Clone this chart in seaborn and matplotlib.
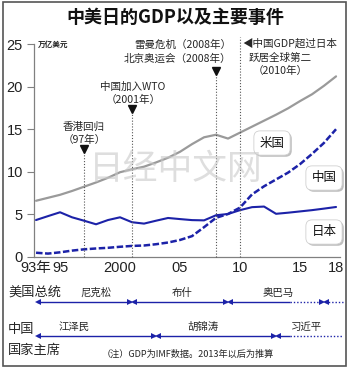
import matplotlib
matplotlib.use("Agg")
import matplotlib.pyplot as plt
import matplotlib.patheffects as pe
from matplotlib.patches import Rectangle
from matplotlib.transforms import blended_transform_factory
import pandas as pd
import seaborn as sns

# GDP, trillion US dollars (IMF; 2013 onward projected)
years = list(range(1993, 2019))
gdp_us = [6.6, 6.95, 7.3, 7.75, 8.25, 8.75, 9.3, 9.95, 10.3, 10.6, 11.1, 11.65,
          12.35, 13.25, 14.05, 14.35, 13.9, 14.6, 15.3, 16.0, 16.7, 17.45,
          18.3, 19.1, 20.1, 21.2]
gdp_china = [0.5, 0.4, 0.55, 0.75, 0.9, 1.0, 1.08, 1.2, 1.3, 1.35, 1.5, 1.7,
             2.0, 2.45, 3.5, 4.6, 5.05, 5.8, 7.35, 8.3, 9.1, 9.9, 10.9, 12.1,
             13.4, 15.0]
gdp_japan = [4.34, 4.8, 5.25, 4.66, 4.26, 3.84, 4.34, 4.66, 4.08, 3.92, 4.26,
             4.58, 4.45, 4.33, 4.3, 4.9, 5.05, 5.5, 5.85, 5.92, 5.07, 5.2,
             5.35, 5.5, 5.68, 5.87]

x_ticks = [1993, 1995, 2000, 2005, 2010, 2015, 2018]
x_tick_labels = ["93年", "95", "2000", "05", "10", "15", "18"]
y_ticks = [0, 5, 10, 15, 20, 25]

event_years = [1997, 2001, 2008, 2010]

us_presidents = ["尼克松", "布什", "奥巴马"]
us_terms = [(1993, 2001), (2001, 2009), (2009, 2017)]
cn_presidents = ["江泽民", "胡锦涛", "习近平"]
cn_terms = [(1993, 2003), (2003, 2013), (2013, None)]

df = pd.DataFrame({
    "year": years * 3,
    "gdp": gdp_us + gdp_china + gdp_japan,
    "country": ["米国"] * len(years) + ["中国"] * len(years) + ["日本"] * len(years),
})

sns.set_style("white")
plt.rcParams["font.family"] = ["Noto Sans CJK SC", "DejaVu Sans"]

W, H = 350, 369
BLUE = "#1c22a8"
GRAY = "#9a9a9a"
AXC = "#808080"

fig = plt.figure(figsize=(W / 100, H / 100), dpi=100)
fig.patch.set_facecolor("white")
ax = fig.add_axes([34 / W, 1 - 257 / H, (340 - 34) / W, (257 - 44) / H])
ov = fig.add_axes([0, 0, 1, 1], zorder=5)
ov.set_xlim(0, W)
ov.set_ylim(H, 0)
ov.axis("off")

styles = {"米国": (GRAY, "", 1.6), "中国": (BLUE, (2.6, 1.0), 1.8), "日本": (BLUE, "", 1.5)}
for name, (col, dash, lw) in styles.items():
    sub = df[df["country"] == name]
    sns.lineplot(data=sub, x="year", y="gdp", color=col, lw=lw, ax=ax,
                 legend=False, zorder=3)
    if dash:
        ax.lines[-1].set_dashes(dash)

ax.set_xlim(1992.83, 2018.33)
ax.set_ylim(0, 25)
ax.set_xlabel("")
ax.set_ylabel("")
ax.set_xticks(x_ticks)
ax.set_xticklabels(x_tick_labels)
ax.set_xticks(years, minor=True)
ax.set_yticks(y_ticks)
ax.tick_params(axis="x", which="both", direction="in", length=5, width=0.8,
               color=AXC, pad=3, labelsize=10.5)
ax.tick_params(axis="y", direction="out", length=5, width=0.8, color=AXC,
               pad=3, labelsize=10.5, left=True)
for lab in ax.get_xticklabels() + ax.get_yticklabels():
    lab.set_fontfamily(["Liberation Sans Narrow", "Liberation Sans", "Noto Sans CJK SC"])
    lab.set_color("#222222")
for s in ["top", "right"]:
    ax.spines[s].set_visible(False)
for s in ["left", "bottom"]:
    ax.spines[s].set_color(AXC)
    ax.spines[s].set_linewidth(0.9)
ax.patch.set_alpha(0)

tr = blended_transform_factory(ax.transData, ov.transData)

# title, unit, frame
ov.text(175, 17, "中美日的GDP以及主要事件", ha="center", va="center",
        fontsize=13, fontweight="bold", color="#111111")
ov.text(38, 44, "万亿美元", ha="left", va="center", fontsize=5.5,
        fontweight="bold", color="#222222")
ov.add_patch(Rectangle((3, 2), 343, 364, fill=False, ec="#555555", lw=1.2))

# event markers
event_tops = [152, 112, 74, 37]
event_tris = [149, 109, 71, None]
for yr, top, tri in zip(event_years, event_tops, event_tris):
    ov.plot([yr, yr], [257, top], transform=tr, color="#555555", lw=0.8,
            ls=(0, (1, 1.6)), zorder=1)
    if tri is not None:
        ov.plot([yr], [tri], transform=tr, marker="v", ms=6, color="#111111")

ev_fs = 7.6
ov.text(84, 127, "香港回归", ha="center", va="center", fontsize=ev_fs)
ov.text(84, 140, "（97年）", ha="center", va="center", fontsize=ev_fs)
ov.text(133, 87, "中国加入WTO", ha="center", va="center", fontsize=ev_fs)
ov.text(133, 100, "（2001年）", ha="center", va="center", fontsize=ev_fs)
ov.text(231, 45, "雷曼危机（2008年）", ha="right", va="center", fontsize=ev_fs)
ov.text(231, 59, "北京奥运会（2008年）", ha="right", va="center", fontsize=ev_fs)
ov.text(242, 44, "◀中国GDP超过日本", ha="left", va="center", fontsize=ev_fs,
        family=["Noto Sans CJK SC", "DejaVu Sans"])
ov.text(280, 58, "跃居全球第二", ha="center", va="center", fontsize=ev_fs)
ov.text(280, 71, "（2010年）", ha="center", va="center", fontsize=ev_fs)

# series labels
for name, (px, py) in zip(["米国", "中国", "日本"], [(272, 143), (324, 178), (324, 232)]):
    t = ov.text(px, py, name, ha="center", va="center", fontsize=9, color="#111111",
                bbox=dict(boxstyle="round,pad=0.45,rounding_size=0.5", fc="white",
                          ec="#d0d0d0", lw=0.6))
    t.get_bbox_patch().set_path_effects([
        pe.SimplePatchShadow(offset=(1.2, -1.2), shadow_rgbFace="#b0b0b0", alpha=0.8),
        pe.Normal()])

# watermark
ov.text(176, 170, "日经中文网", ha="center", va="center", fontsize=25,
        color="#c8c8c8", alpha=0.6, zorder=6)

# leader rows
X_END = 2018.6
SOLID_UNTIL = 2014.2


def span(y, start, end, left_head=True, right_head=True):
    s = start + 0.12
    e = (end - 0.12) if end is not None else X_END
    solid_end = min(e, SOLID_UNTIL) if end is None or end > SOLID_UNTIL else e
    if start >= SOLID_UNTIL:
        solid_end = s
    if solid_end > s:
        ov.plot([s, solid_end], [y, y], transform=tr, color=BLUE, lw=1.0,
                solid_capstyle="butt")
    if e > solid_end:
        ov.plot([max(s, solid_end), e], [y, y], transform=tr, color=BLUE,
                lw=1.0, ls=(0, (1, 1.4)))
    if left_head:
        ov.plot([s + 0.08], [y], transform=tr, marker="<", ms=3.8, color=BLUE,
                mew=0)
    if right_head and end is not None:
        ov.plot([e - 0.08], [y], transform=tr, marker=">", ms=3.8, color=BLUE,
                mew=0)


row_fs = 7.5
ov.text(8, 292, "美国总统", ha="left", va="center", fontsize=9.5)
for name, (a, b), cx in zip(us_presidents, us_terms, [1998.0, 2005.2, 2013.2]):
    span(302, a, b)
    ov.text(cx, 293, name, transform=tr, ha="center", va="center", fontsize=row_fs)
span(302, 2017, None)

ov.text(8, 330, "中国", ha="left", va="center", fontsize=9.5)
ov.text(8, 350, "国家主席", ha="left", va="center", fontsize=9.5)
for name, (a, b), cx in zip(cn_presidents, cn_terms, [1996.2, 2006.9, 2015.5]):
    span(336, a, b)
    ov.text(cx, 327, name, transform=tr, ha="center", va="center", fontsize=row_fs)

ov.text(188, 354, "（注）GDP为IMF数据。2013年以后为推算", ha="center", va="center",
        fontsize=6.6)

fig.savefig("out.png", dpi=100, facecolor="white")
